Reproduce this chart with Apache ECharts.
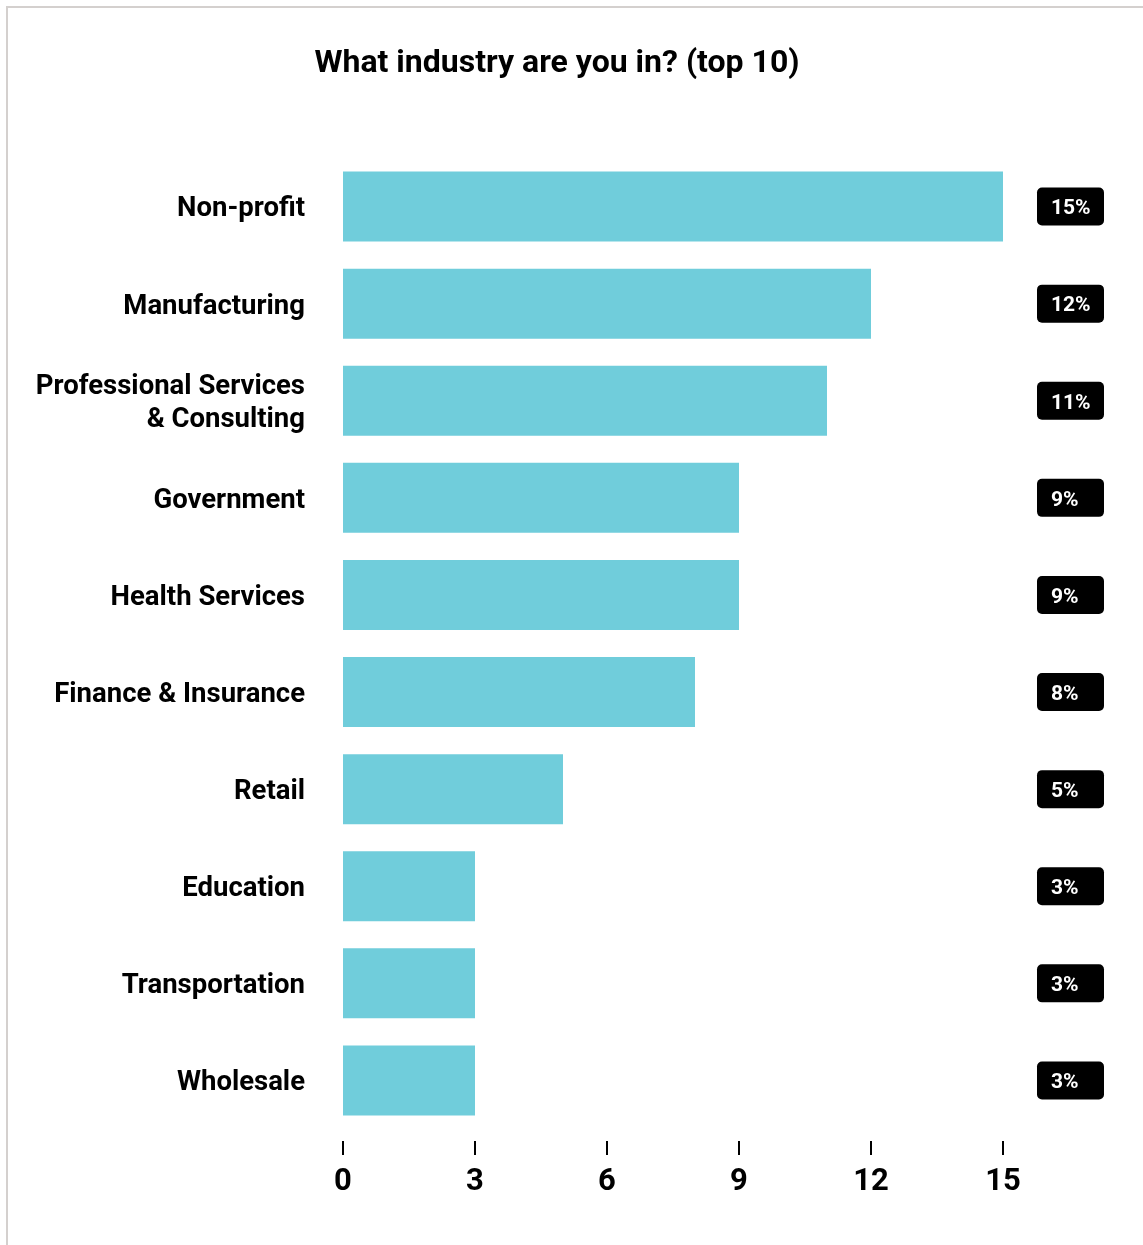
<!DOCTYPE html>
<html>
<head>
<meta charset="utf-8">
<title>What industry are you in? (top 10)</title>
<script src="https://cdn.jsdelivr.net/npm/echarts@6/dist/echarts.min.js"></script>
<style>
  html, body { margin: 0; padding: 0; background: #fff; overflow: hidden; }
  #frame {
    position: absolute; left: 6px; top: 6px; width: 1200px; height: 1300px;
    border-top: 2px solid #d4d0ce; border-left: 2px solid #d4d0ce;
  }
  #chart { position: absolute; left: 0; top: 0; width: 1143px; height: 1245px; }
</style>
</head>
<body>
<div id="frame"></div>
<div id="chart"></div>
<script>
// Survey answers, share of respondents (%)
const industries = [
  'Non-profit',
  'Manufacturing',
  'Professional Services\n& Consulting',
  'Government',
  'Health Services',
  'Finance & Insurance',
  'Retail',
  'Education',
  'Transportation',
  'Wholesale'
];
const shares = [15, 12, 11, 9, 9, 8, 5, 3, 3, 3];
const xTicks = [0, 3, 6, 9, 12, 15];

const FONT = 'Roboto, "Noto Sans", sans-serif';
const shareLabels = shares.map(v => v + '%');

// First line of each category name gets a little top padding so the block sits slightly lower
const nameFormatter = name => name.split('\n')
  .map((line, i) => (i === 0 ? '{first|' : '{rest|') + line + '}')
  .join('\n');

const chart = echarts.init(document.getElementById('chart'), null, { renderer: 'canvas' });
chart.setOption({
  backgroundColor: 'transparent',
  animation: false,
  textStyle: { fontFamily: FONT },
  title: {
    text: 'What industry are you in? (top 10)',
    left: 552,
    textAlign: 'center',
    top: 43,
    textStyle: { fontFamily: FONT, fontSize: 32, fontWeight: 'bold', color: '#000' }
  },
  grid: { left: 343, right: 140, top: 158, bottom: 116, containLabel: false },
  xAxis: {
    type: 'value',
    min: xTicks[0],
    max: xTicks[xTicks.length - 1],
    interval: 3,
    offset: 12,
    splitLine: { show: false },
    axisLine: { show: false },
    axisTick: { show: true, length: 14, lineStyle: { color: '#000', width: 2 } },
    axisLabel: {
      margin: 26,
      fontFamily: FONT, fontSize: 31, fontWeight: 'bold', color: '#000',
      formatter: v => xTicks.includes(v) ? String(v) : ''
    }
  },
  yAxis: [
    {
      type: 'category',
      inverse: true,
      data: industries,
      axisLine: { show: false },
      axisTick: { show: false },
      axisLabel: {
        margin: 38,
        align: 'right',
        formatter: nameFormatter,
        rich: {
          first: {
            fontFamily: FONT, fontSize: 27.5, fontWeight: 'bold', color: '#000',
            lineHeight: 33, padding: [6, 0, 0, 0]
          },
          rest: {
            fontFamily: FONT, fontSize: 27.5, fontWeight: 'bold', color: '#000',
            lineHeight: 33, padding: [5, 0, 0, 0]
          }
        }
      }
    },
    {
      type: 'category',
      inverse: true,
      position: 'right',
      data: shareLabels,
      axisLine: { show: false },
      axisTick: { show: false },
      axisLabel: {
        margin: 34,
        align: 'left',
        formatter: v => '{badge|' + v + '}',
        rich: {
          badge: {
            fontFamily: FONT, fontSize: 21, fontWeight: 'bold', color: '#fff',
            backgroundColor: '#000',
            borderRadius: 5,
            width: 40,
            lineHeight: 22,
            padding: [11, 13, 6, 14]
          }
        }
      }
    }
  ],
  series: [{
    type: 'bar',
    data: shares,
    barWidth: 70,
    itemStyle: { color: '#70cddb' },
    label: { show: false }
  }]
});
</script>
</body>
</html>
